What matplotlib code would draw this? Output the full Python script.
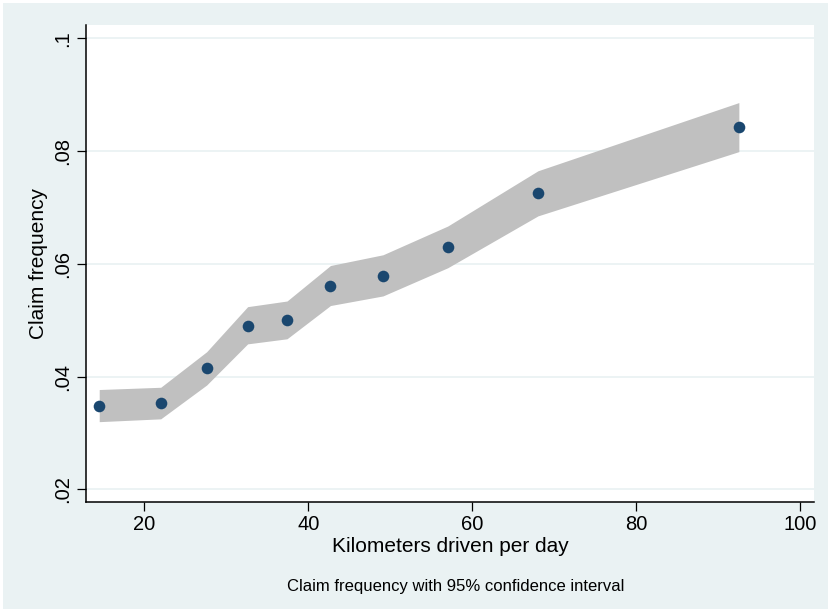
import matplotlib
matplotlib.use("Agg")
import matplotlib.pyplot as plt
from matplotlib.patches import Rectangle
from matplotlib.ticker import FuncFormatter

# binned data: km per day, claim frequency and 95% CI
km_per_day = [14.5, 22.0, 27.6, 32.6, 37.4, 42.7, 49.1, 57.0, 68.0, 92.5]
claim_freq = [0.0348, 0.0353, 0.0415, 0.0490, 0.0500, 0.0561, 0.0578, 0.0630, 0.0726, 0.0843]
ci_upper = [0.0377, 0.0381, 0.0444, 0.0524, 0.0534, 0.0597, 0.0616, 0.0667, 0.0765, 0.0886]
ci_lower = [0.0320, 0.0325, 0.0385, 0.0458, 0.0467, 0.0526, 0.0543, 0.0593, 0.0685, 0.0799]

x_ticks = [20, 40, 60, 80, 100]
y_ticks = [0.02, 0.04, 0.06, 0.08, 0.1]

bg = "#EAF2F3"
navy = "#1A476F"
band = "#C0C0C0"

plt.rcParams["font.family"] = ["Liberation Sans", "DejaVu Sans"]

W, H = 829, 609
fig = plt.figure(figsize=(W / 100, H / 100), dpi=100, facecolor="white")
# stata-like graph region with a thin white margin top/left
fig.patches.append(Rectangle((3 / W, 0), 1 - 3 / W, 1 - 3 / H, transform=fig.transFigure,
                             facecolor=bg, edgecolor="none", zorder=-5))

ax = fig.add_axes([85.7 / W, (H - 502) / H, (814.3 - 85.7) / W, (502 - 25) / H])
ax.set_facecolor("white")

ax.fill_between(km_per_day, ci_lower, ci_upper, color=band, linewidth=0, zorder=2)
ax.scatter(km_per_day, claim_freq, s=70, color=navy, zorder=3, linewidths=0)

ax.set_xlim(12.85, 101.7)
ax.set_ylim(0.01775, 0.10236)
ax.set_xticks(x_ticks)
ax.set_yticks(y_ticks)
ax.yaxis.set_major_formatter(FuncFormatter(lambda v, p: ("%g" % round(v, 3)).lstrip("0")))
ax.grid(axis="y", color=bg, linewidth=1.3, zorder=1)
ax.set_axisbelow(True)

for s in ["top", "right"]:
    ax.spines[s].set_visible(False)
for s in ["left", "bottom"]:
    ax.spines[s].set_linewidth(1.1)
    ax.spines[s].set_color("black")

ax.tick_params(axis="both", direction="out", length=6.5, width=0.9, labelsize=14.5, pad=3)
plt.setp(ax.get_yticklabels(), rotation=90, va="center")

ax.set_xlabel("Kilometers driven per day", fontsize=15, labelpad=2)
ax.set_ylabel("Claim frequency", fontsize=15, labelpad=4)

fig.text(455.5 / W, 1 - 586 / H, "Claim frequency with 95% confidence interval",
         fontsize=12, ha="center", va="center")

fig.savefig("out.png", dpi=100, facecolor=fig.get_facecolor())
